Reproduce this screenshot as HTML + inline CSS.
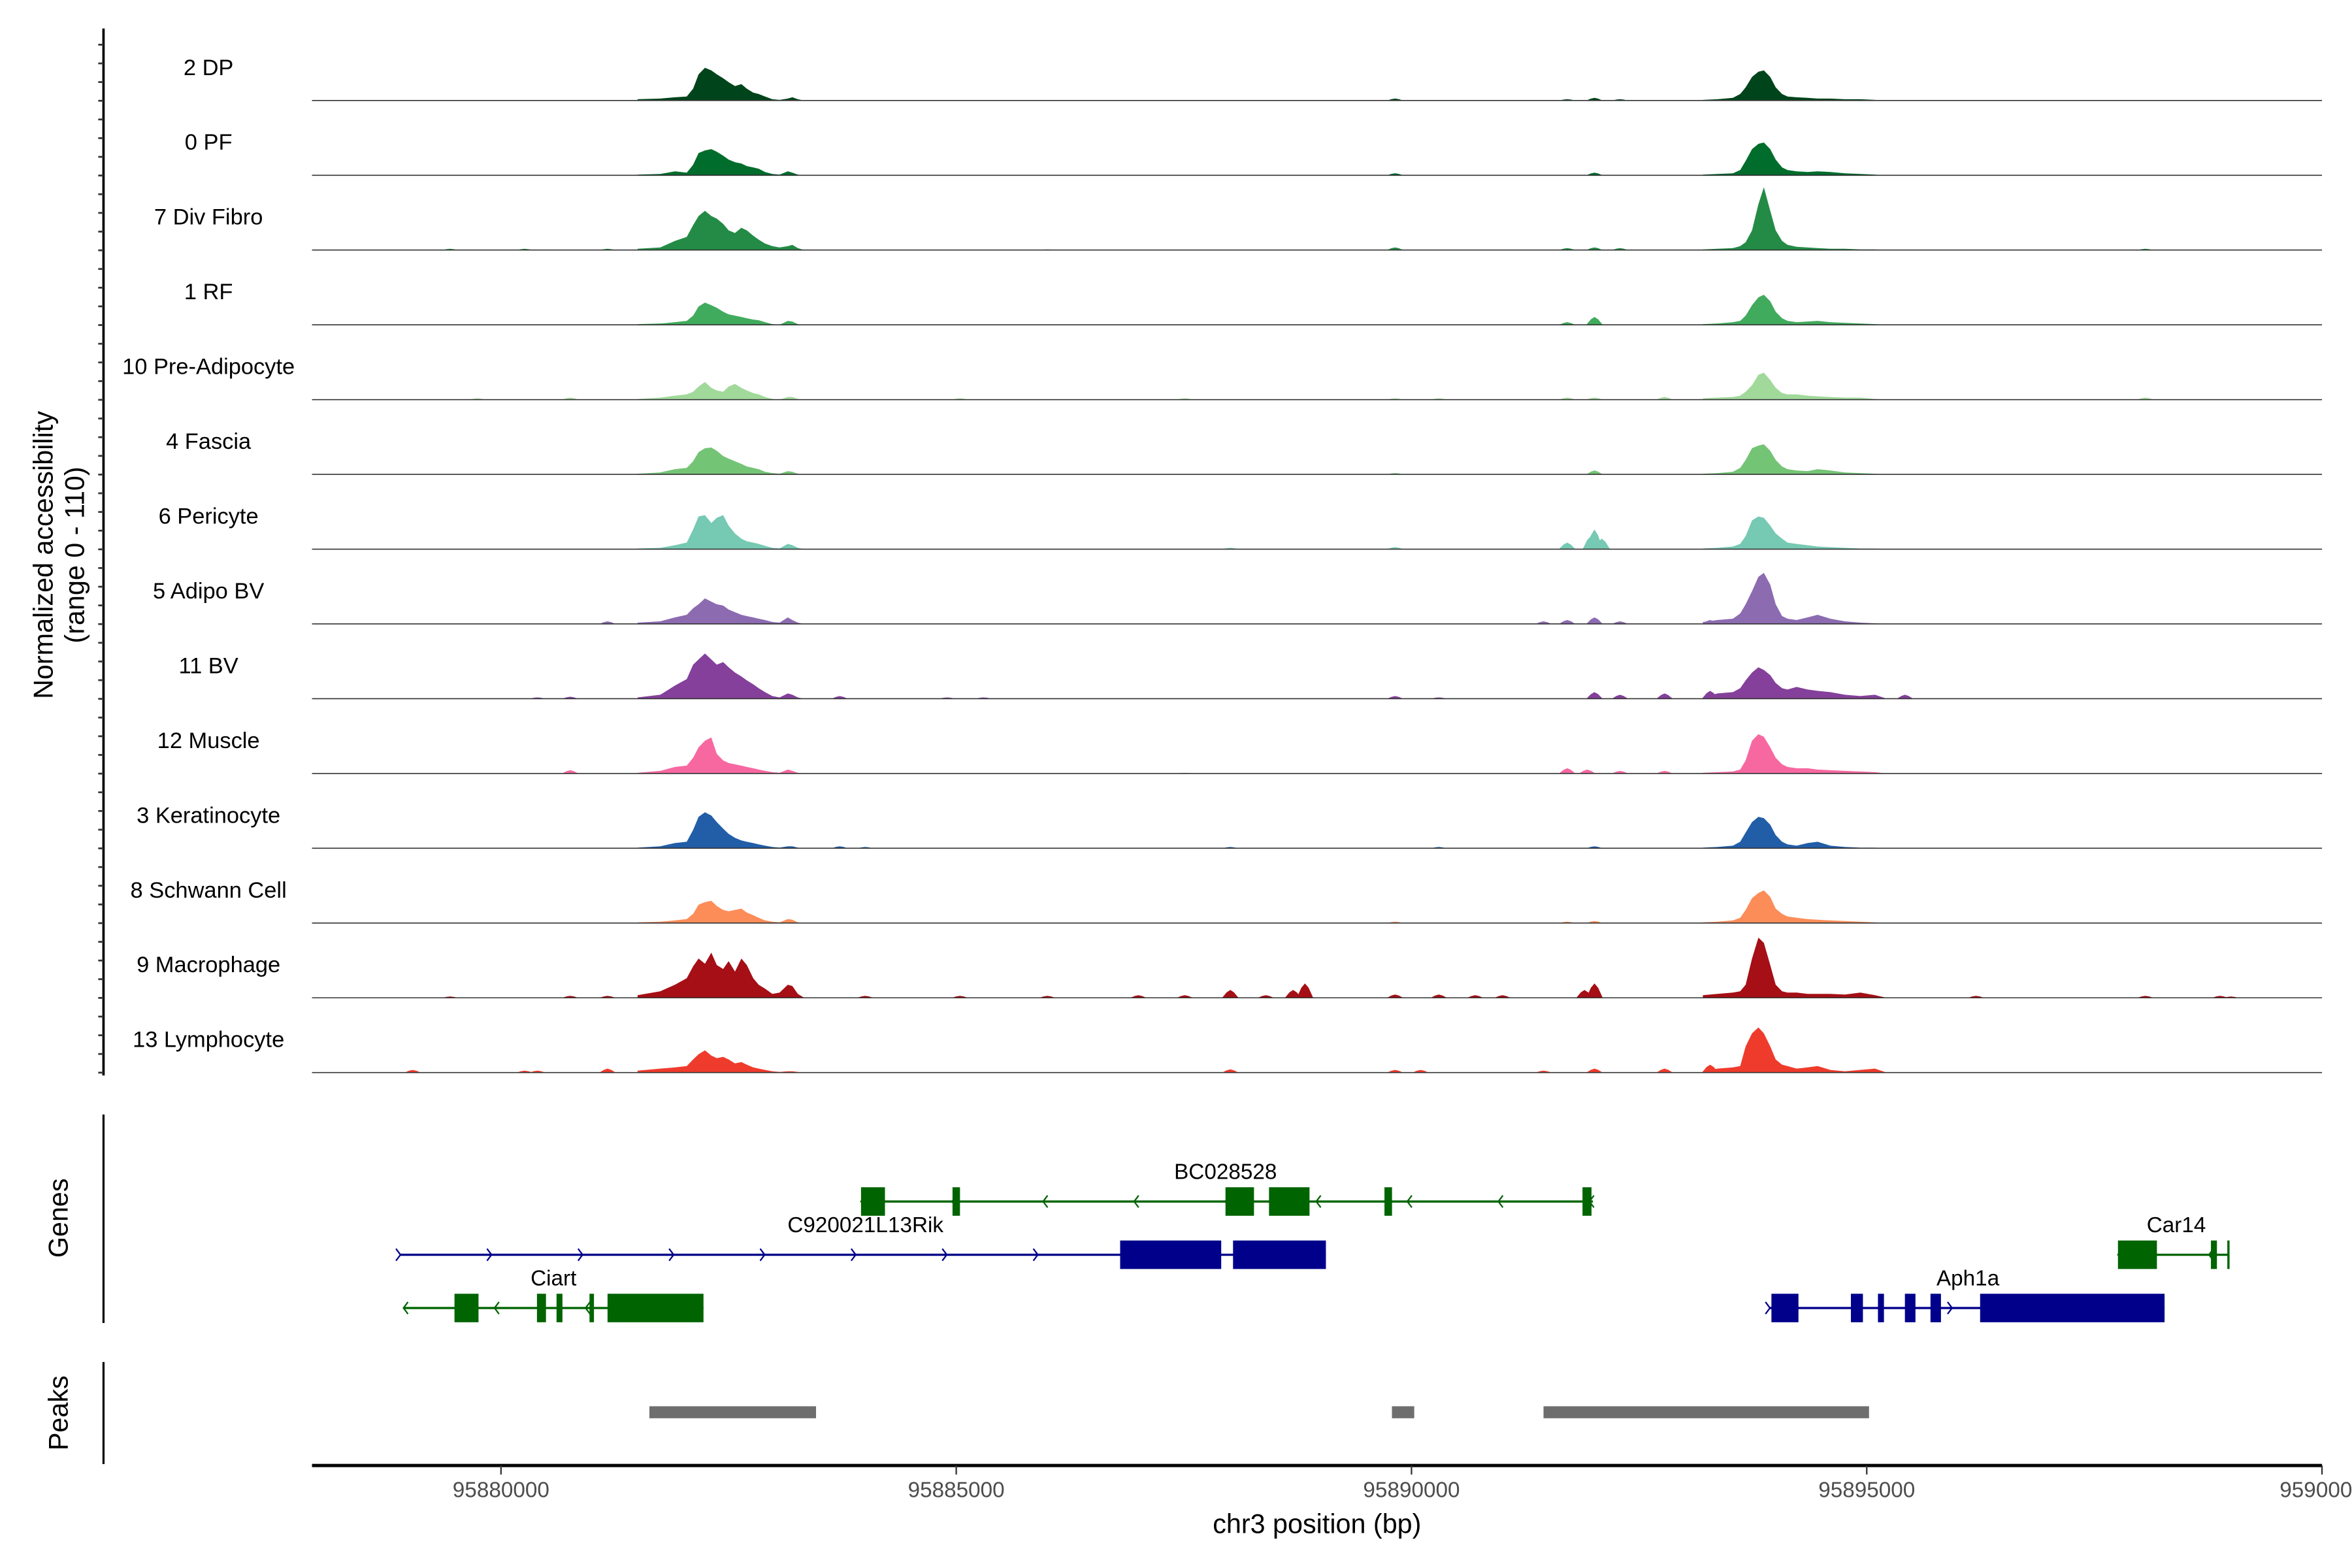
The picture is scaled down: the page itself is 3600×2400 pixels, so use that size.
<!DOCTYPE html>
<html><head><meta charset="utf-8">
<style>
html,body{margin:0;padding:0;background:#fff;}
svg{display:block;font-family:"Liberation Sans",Arial,sans-serif;}
</style></head>
<body>
<svg id="chart" width="3600" height="2400" viewBox="0 0 1568 1045.33" preserveAspectRatio="none" xmlns="http://www.w3.org/2000/svg">
  <g id="tracks"></g>
  <g id="yaxis"></g>
  <text transform="translate(35,370) rotate(-90)" text-anchor="middle" font-size="18">Normalized accessibility</text>
  <text transform="translate(56,370) rotate(-90)" text-anchor="middle" font-size="18">(range 0 - 110)</text>
  <g id="genes"></g>
  <line x1="69" y1="743" x2="69" y2="882" stroke="#000" stroke-width="1.4"/>
  <text transform="translate(45,812) rotate(-90)" text-anchor="middle" font-size="18">Genes</text>
  <g id="peaks"></g>
  <line x1="69" y1="908" x2="69" y2="976" stroke="#000" stroke-width="1.4"/>
  <text transform="translate(45,942) rotate(-90)" text-anchor="middle" font-size="18">Peaks</text>
  <g id="xaxis"></g>
  <text x="878" y="1022" text-anchor="middle" font-size="18">chr3 position (bp)</text>
</svg>
<script>
// ---- data ----
const trackNames = ["2 DP","0 PF","7 Div Fibro","1 RF","10 Pre-Adipocyte","4 Fascia","6 Pericyte","5 Adipo BV","11 BV","12 Muscle","3 Keratinocyte","8 Schwann Cell","9 Macrophage","13 Lymphocyte"];
const trackColors = ["#00441b","#006d2c","#238b45","#41ab5d","#a1d99b","#74c476","#76c9b3","#8c6bb1","#84409a","#f768a1","#225ea8","#fc8d59","#a50f15","#ef3b2c"];
const binsA = [95881500,95881750,95881910,95882040,95882110,95882170,95882240,95882310,95882370,95882440,95882500,95882570,95882640,95882700,95882770,95882830,95882900,95882980,95883060,95883150,95883200,95883260,95883330];
const binsB = [95893200,95893360,95893530,95893610,95893670,95893740,95893810,95893870,95893940,95894000,95894070,95894130,95894230,95894350,95894460,95894600,95894760,95894930,95895090,95895220];
const valsA = [
[2,3,5,6,18,40,50,46,40,34,28,22,25,18,12,10,6,2,1,3,5,2,0],
[1,2,6,4,16,34,38,40,36,30,24,20,18,14,12,10,5,2,1,6,4,1,0],
[2,4,14,20,38,52,60,52,48,40,30,26,34,30,22,16,10,6,4,6,8,3,0],
[1,2,4,6,14,28,34,30,26,20,16,14,12,10,8,7,4,1,0,6,5,1,0],
[1,3,6,8,12,20,27,18,14,12,20,24,18,14,10,8,4,1,0,4,4,1,0],
[1,3,8,10,20,34,40,41,36,28,24,20,16,12,10,8,4,2,1,5,4,1,0],
[1,2,6,10,30,50,52,40,48,52,36,24,16,12,10,8,5,2,1,8,6,2,0],
[2,4,10,14,24,30,39,34,30,28,22,18,14,12,10,8,6,3,2,10,6,2,0],
[2,6,20,30,52,60,69,60,52,56,48,40,34,28,22,16,10,4,2,8,6,2,0],
[1,4,10,12,24,40,50,55,30,20,16,14,12,10,8,6,4,2,1,6,4,1,0],
[1,3,8,10,28,48,55,50,40,30,22,16,12,10,8,6,4,2,1,3,3,1,0],
[1,2,4,6,14,28,32,34,26,20,18,20,22,16,12,8,4,2,1,6,5,1,0],
[4,10,20,30,48,60,52,69,50,44,56,40,60,50,30,20,14,6,8,20,18,6,0],
[3,6,8,10,20,28,34,26,22,24,20,14,16,12,8,6,4,2,1,2,2,1,0]];
const valsB = [
[1,2,4,10,20,36,44,46,36,20,10,6,5,4,3,3,2,2,1,0],
[1,2,3,8,22,40,48,50,40,24,12,8,6,5,6,5,3,2,1,0],
[1,2,3,6,12,30,70,96,60,30,14,8,5,4,3,2,2,1,1,0],
[1,2,4,6,14,30,42,46,36,20,10,6,4,5,6,4,3,2,1,0],
[2,3,4,6,12,22,38,41,30,18,10,8,8,6,5,4,3,3,1,0],
[1,2,4,10,22,40,44,46,36,22,12,8,6,5,8,6,3,2,1,0],
[1,2,4,8,20,44,50,48,36,24,16,10,8,6,4,3,2,1,1,0],
[3,6,8,16,30,50,72,78,60,30,12,8,6,10,14,8,4,2,1,0],
[2,8,10,16,28,40,48,44,36,24,16,14,18,14,12,10,6,4,6,0],
[1,2,3,6,20,50,60,56,40,24,14,10,8,8,6,5,4,3,2,0],
[1,2,4,10,24,40,48,46,36,20,10,6,4,8,10,4,2,1,1,0],
[1,2,4,8,20,38,46,50,40,22,14,10,8,6,5,4,3,2,1,0],
[4,6,8,10,20,60,92,84,50,20,10,8,8,6,6,6,5,8,4,0],
[2,6,8,10,40,60,69,60,40,20,12,10,6,8,10,4,2,4,6,0]];
const extraPos = [
[95889820,95891710,95892010,95892290],
[95889820,95892010],
[95879440,95880260,95881170,95889820,95891710,95892010,95892290,95898060,95886000],
[95892010,95891710],
[95879740,95880760,95885040,95887510,95889820,95891710,95892010,95892780,95898060,95890300],
[95892010,95889820],
[95892010,95891970,95892090,95891710,95889820,95888010],
[95881170,95891710,95892010,95892290,95891450,95893280],
[95880760,95880400,95883720,95884900,95885300,95889820,95892010,95892290,95892780,95893280,95895420,95890300],
[95880760,95891710,95891930,95892290,95892780,95887510],
[95884000,95888010,95890300,95892010,95883720],
[95889820,95892010,95891710],
[95888830,95888700,95888010,95892010,95891900,95879440,95880760,95881170,95884000,95886000,95887000,95887510,95889820,95890300,95891000,95896200,95898060,95898880,95899000,95885040,95890700,95888400],
[95879030,95880260,95880400,95881170,95888010,95889820,95890100,95891450,95892010,95892780,95893280]];
const extraVals = [
[3,2,4,2],
[3,4],
[2,2,2,4,3,4,3,2,1],
[12,4],
[2,3,2,2,2,3,3,4,3,2],
[6,2],
[30,20,16,10,3,2],
[4,6,10,4,4,6],
[3,2,4,2,2,4,10,6,8,12,6,2],
[5,8,6,4,4,1],
[2,2,2,3,3],
[2,3,2],
[22,12,12,22,12,2,3,3,3,3,4,4,5,5,4,3,3,3,2,3,4,4],
[4,3,3,6,5,4,4,3,6,6,12]];
const xTicks = [95880000,95885000,95890000,95895000,95900000];
const xTickLabels = ["95880000","95885000","95890000","95895000","9590000"];
const peakStarts = [95881630,95889785,95891450];
const peakEnds = [95883460,95890030,95895025];
const genes = [
 {name:"BC028528", strand:-1, color:"#006400", row:0, start:95883954, end:95891993, labelX:95887957,
  exStart:[95883954,95884959,95887957,95888435,95889703,95891878], exEnd:[95884217,95885041,95888270,95888880,95889786,95891977]},
 {name:"C920021L13Rik", strand:1, color:"#00008b", row:1, start:95878896, end:95889060, labelX:95884003,
  exStart:[95886800,95888040], exEnd:[95887910,95889060]},
 {name:"Car14", strand:-1, color:"#006400", row:1, start:95897759, end:95898980, labelX:95898400,
  exStart:[95897759,95898780,95898960], exEnd:[95898187,95898846,95898980]},
 {name:"Ciart", strand:-1, color:"#006400", row:2, start:95878929, end:95882224, labelX:95880577,
  exStart:[95879489,95880395,95880610,95880972,95881170], exEnd:[95879753,95880494,95880675,95881021,95882224]},
 {name:"Aph1a", strand:1, color:"#00008b", row:2, start:95893937, end:95898271, labelX:95896111,
  exStart:[95893953,95894826,95895123,95895419,95895700,95896245], exEnd:[95894250,95894958,95895189,95895535,95895815,95898271]}
];
// ---- scales ----
const NS="http://www.w3.org/2000/svg";
const X0=208, X1=1548;
function xs(bp){ return 334 + (bp-95880000)*303.5/5000; }
const BASE0=67, STEP=49.85, HMAX=48, VMAX=110;
function ys(i,v){ return BASE0 + i*STEP - v/VMAX*HMAX; }
function mk(tag,attrs,parent){ const e=document.createElementNS(NS,tag); for(const k in attrs) e.setAttribute(k,attrs[k]); parent.appendChild(e); return e; }

// ---- tracks ----
const tg=document.getElementById('tracks');
trackNames.forEach((nm,i)=>{
  const base=BASE0+i*STEP;
  const g=mk('g',{},tg);
  
  
  const t=mk('text',{x:139,y:base-17,'text-anchor':'middle','font-size':15},g);
  t.textContent=nm;
  
  
  [[binsA,valsA[i]],[binsB,valsB[i]]].forEach((pair,k)=>{
    const bins=pair[0], vals=pair[1];
    let d='M'+xs(bins[0]).toFixed(2)+','+base;
    bins.forEach((b,j)=>{ d+=' L'+xs(b).toFixed(2)+','+ys(i,vals[j]).toFixed(2); });
    d+=' L'+xs(bins[bins.length-1]).toFixed(2)+','+base+' Z';
    const p=mk('path',{d:d,fill:trackColors[i]},g);
    
    
  });
  extraPos[i].forEach((bp,j)=>{
    const v=extraVals[i][j];
    const d='M'+xs(bp-90).toFixed(2)+','+base+' L'+xs(bp-40).toFixed(2)+','+ys(i,v*0.7).toFixed(2)+' L'+xs(bp).toFixed(2)+','+ys(i,v).toFixed(2)+' L'+xs(bp+40).toFixed(2)+','+ys(i,v*0.7).toFixed(2)+' L'+xs(bp+90).toFixed(2)+','+base+' Z';
    const p=mk('path',{d:d,fill:trackColors[i]},g);
    
    
  });
  const bl=mk('line',{x1:X0,x2:X1,y1:base,y2:base,stroke:'#333','stroke-width':0.7},g);
  
  
});

// ---- y axis ----
const ya=document.getElementById('yaxis');
const yl=mk('line',{x1:69,x2:69,y1:19,y2:717,stroke:'#000','stroke-width':1.6},ya);


for(let y=29.8;y<=717;y+=12.46){
  const tk=mk('line',{x1:65.5,x2:69,y1:y,y2:y,stroke:'#333','stroke-width':1.2},ya);
  
  
}

// ---- genes ----
const gg=document.getElementById('genes');
const rowY=[801,836.5,872];
genes.forEach(gn=>{
  const g=mk('g',{},gg);
  
  
  const y=rowY[gn.row];
  const ln=mk('line',{x1:xs(gn.start),x2:xs(gn.end),y1:y,y2:y,stroke:gn.color,'stroke-width':1.5},g);
  
  
  for(let bp=gn.start; bp<=gn.end; bp+=1000){
    const x=xs(bp), s=gn.strand*3;
    const a=mk('path',{d:'M'+(x-s)+','+(y-4)+' L'+x+','+y+' L'+(x-s)+','+(y+4),fill:'none',stroke:gn.color,'stroke-width':1},g);
    
    
  }
  gn.exStart.forEach((s,j)=>{
    const r=mk('rect',{x:xs(s),y:y-9.5,width:Math.max(1.5,xs(gn.exEnd[j])-xs(s)),height:19,fill:gn.color},g);
    
    
  });
  const t=mk('text',{x:xs(gn.labelX),y:y-15,'text-anchor':'middle','font-size':14.5},g);
  t.textContent=gn.name;
  
  
});

// ---- peaks ----
const pg=document.getElementById('peaks');
peakStarts.forEach((s,j)=>{
  const r=mk('rect',{x:xs(s),y:937.5,width:xs(peakEnds[j])-xs(s),height:8,fill:'#6e6e6e'},pg);
  
  
});

// ---- x axis ----
const xa=document.getElementById('xaxis');
const xl=mk('line',{x1:X0,x2:X1,y1:977,y2:977,stroke:'#000','stroke-width':2.2},xa);


xTicks.forEach((bp,j)=>{
  const x=xs(bp);
  const tk=mk('line',{x1:x,x2:x,y1:977,y2:983,stroke:'#333','stroke-width':1},xa);
  
  
  const t=mk('text',{x:x,y:998,'text-anchor':'middle','font-size':14.5,fill:'#4d4d4d'},xa);
  t.textContent=xTickLabels[j];
  
  
});
</script>
</body></html>
